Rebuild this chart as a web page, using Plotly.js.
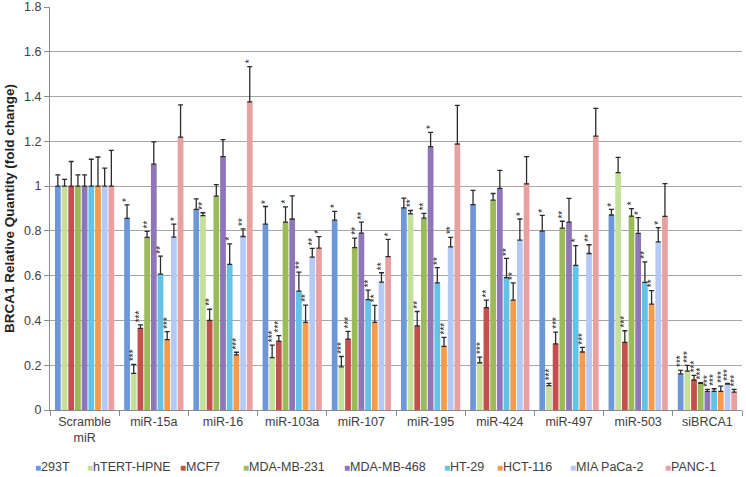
<!DOCTYPE html>
<html><head><meta charset="utf-8">
<script src="https://cdn.plot.ly/plotly-3.0.1.min.js"></script>
<style>body{margin:0;background:#fff}#chart{width:746px;height:477px}</style>
</head><body><div id="chart"></div>
<script>
const categories = ["Scramble<br>miR","miR-15a","miR-16","miR-103a","miR-107","miR-195","miR-424","miR-497","miR-503","siBRCA1"];
const seriesNames = ["293T","hTERT-HPNE","MCF7","MDA-MB-231","MDA-MB-468","HT-29","HCT-116","MIA PaCa-2","PANC-1"];

const val293T   = [1, 0.856, 0.896, 0.830, 0.848, 0.903, 0.917, 0.799, 0.871, 0.161];
const valHTERT  = [1, 0.164, 0.868, 0.234, 0.193, 0.876, 0.211, 0.109, 1.060, 0.174];
const valMCF7   = [1, 0.365, 0.400, 0.308, 0.317, 0.376, 0.457, 0.295, 0.302, 0.134];
const valMDA231 = [1, 0.771, 0.955, 0.839, 0.725, 0.857, 0.937, 0.812, 0.866, 0.119];
const valMDA468 = [1, 1.098, 1.132, 0.853, 0.790, 1.176, 0.990, 0.839, 0.789, 0.083];
const valHT29   = [1, 0.607, 0.650, 0.531, 0.493, 0.568, 0.591, 0.646, 0.570, 0.083];
const valHCT116 = [1, 0.314, 0.246, 0.391, 0.391, 0.284, 0.491, 0.259, 0.473, 0.083];
const valMIA    = [1, 0.772, 0.775, 0.683, 0.571, 0.729, 0.759, 0.699, 0.751, 0.116];
const valPANC   = [1, 1.219, 1.376, 0.723, 0.685, 1.188, 1.010, 1.223, 0.865, 0.080];

const err293T   = [0.05, 0.060, 0.047, 0.079, 0.039, 0.043, 0.064, 0.070, 0.025, 0.016];
const errHTERT  = [0.03, 0.040, 0.013, 0.056, 0.046, 0.015, 0.025, 0.010, 0.068, 0.025];
const errMCF7   = [0.11, 0.015, 0.050, 0.024, 0.034, 0.064, 0.034, 0.053, 0.052, 0.021];
const errMDA231 = [0.05, 0.027, 0.052, 0.068, 0.043, 0.021, 0.030, 0.031, 0.033, 0.003];
const errMDA468 = [0.05, 0.100, 0.076, 0.103, 0.049, 0.064, 0.080, 0.106, 0.070, 0.009];
const errHT29   = [0.12, 0.080, 0.092, 0.085, 0.042, 0.068, 0.086, 0.088, 0.092, 0.012];
const errHCT116 = [0.13, 0.036, 0.012, 0.077, 0.076, 0.040, 0.077, 0.021, 0.060, 0.024];
const errMIA    = [0.08, 0.058, 0.034, 0.039, 0.042, 0.042, 0.094, 0.039, 0.064, 0.003];
const errPANC   = [0.16, 0.144, 0.158, 0.051, 0.077, 0.173, 0.122, 0.124, 0.146, 0.012];

const sig293T   = ["", "*", "", "*", "*", "", "", "*", "*", "***"];
const sigHTERT  = ["", "***", "**", "***", "***", "**", "***", "***", "", "***"];
const sigMCF7   = ["", "***", "**", "***", "***", "**", "**", "***", "***", "***"];
const sigMDA231 = ["", "**", "", "*", "**", "**", "", "**", "*", "***"];
const sigMDA468 = ["", "", "", "", "**", "*", "", "", "*", "***"];
const sigHT29   = ["", "**", "*", "**", "**", "**", "**", "*", "**", "***"];
const sigHCT116 = ["", "***", "***", "**", "**", "***", "**", "***", "**", "***"];
const sigMIA    = ["", "*", "**", "**", "**", "**", "*", "**", "*", "***"];
const sigPANC   = ["", "", "*", "*", "*", "", "", "", "", "***"];

const values = [val293T, valHTERT, valMCF7, valMDA231, valMDA468, valHT29, valHCT116, valMIA, valPANC];
const errors = [err293T, errHTERT, errMCF7, errMDA231, errMDA468, errHT29, errHCT116, errMIA, errPANC];
const sigs = [sig293T, sigHTERT, sigMCF7, sigMDA231, sigMDA468, sigHT29, sigHCT116, sigMIA, sigPANC];
const colors = ["#6d97d8","#c6e09c","#c4504e","#9bbb5b","#8f76b8","#62c3e6","#f79a4a","#b4c9f5","#e8a1a0"];

const BARGAP = 0.13;
const traces = seriesNames.map((name, j) => ({
  type: 'bar', name: name, x: categories, y: values[j],
  marker: {color: colors[j], line: {width: 0}},
  error_y: {type: 'data', array: errors[j], arrayminus: errors[j].map(() => 0), symmetric: false,
            color: '#2b2b2b', thickness: 1.3, width: 2.5},
  showlegend: false, hoverinfo: 'skip'
}));

const annotations = [];
const slot = (1 - BARGAP) / seriesNames.length;
sigs.forEach((arr, j) => {
  arr.forEach((s, i) => {
    if (!s) return;
    annotations.push({
      x: i - (1 - BARGAP) / 2 + (j + 0.5) * slot, xref: 'x',
      y: values[j][i] + errors[j][i], yref: 'y',
      text: s, showarrow: false, textangle: -90,
      xanchor: 'center', yanchor: 'bottom', yshift: 1,
      font: {family: 'Arial, Liberation Sans, sans-serif', size: 10, color: '#222'}
    });
  });
});

// legend built as text annotations
const legendPx = [33, 85, 178, 241, 342, 442, 495, 568, 663];
const L = 50, R = 4, W = 746;
seriesNames.forEach((name, j) => {
  annotations.push({
    xref: 'paper', yref: 'paper',
    x: (legendPx[j] - L) / (W - L - R), y: -0.142,
    xanchor: 'left', yanchor: 'middle', showarrow: false,
    text: '<span style="color:' + colors[j] + ';font-size:10px">■</span>' + name,
    font: {family: 'Arial, Liberation Sans, sans-serif', size: 12.5, color: '#404040'}
  });
});

const layout = {
  width: 746, height: 477,
  margin: {l: L, r: R, t: 7, b: 67},
  paper_bgcolor: '#fff', plot_bgcolor: '#fff',
  barmode: 'group', bargap: BARGAP, bargroupgap: 0.14,
  showlegend: false,
  xaxis: {
    type: 'category', tickson: 'boundaries', ticks: 'outside', ticklen: 5, tickcolor: '#8c8c8c',
    showline: true, linecolor: '#8c8c8c', linewidth: 1, showgrid: false,
    tickfont: {family: 'Arial, Liberation Sans, sans-serif', size: 12.5, color: '#404040'},
    range: [-0.5, 9.5]
  },
  yaxis: {
    range: [0, 1.8], dtick: 0.2, tick0: 0, ticks: 'outside', ticklen: 5, tickcolor: '#8c8c8c',
    showline: true, linecolor: '#8c8c8c', linewidth: 1,
    showgrid: true, gridcolor: '#a6a6a6', gridwidth: 1, zeroline: false,
    tickfont: {family: 'Arial, Liberation Sans, sans-serif', size: 12.5, color: '#404040'},
    title: {text: '<b>BRCA1 Relative Quantity (fold change)</b>', standoff: 6,
            font: {family: 'Arial, Liberation Sans, sans-serif', size: 13.5, color: '#222'}}
  },
  annotations: annotations
};

Plotly.newPlot('chart', traces, layout, {displayModeBar: false, staticPlot: true});
</script>
</body></html>
